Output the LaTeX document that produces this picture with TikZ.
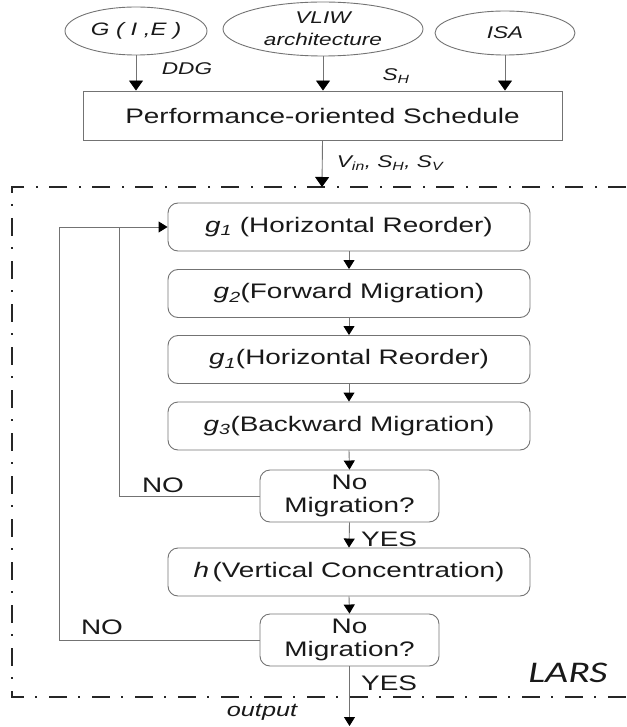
\documentclass[tikz,border=0pt]{standalone}
\usepackage{fontspec}
\setmainfont{Liberation Sans}[FakeStretch=1.33]
\newfontfamily\larsfont{Carlito}[FakeStretch=1.33]
\usetikzlibrary{shapes.geometric,arrows.meta}

\tikzset{
  line/.style={draw=black!55, line width=0.9pt},
  arr/.style={line, -{Triangle[width=11pt,length=9pt,color=black]}},
  bigarr/.style={line, -{Triangle[width=14pt,length=10pt,color=black]}},
  oval/.style={ellipse, draw=black!55, line width=0.9pt, inner sep=0pt,
    font=\fontsize{17}{22}\selectfont\itshape, text=black!90, align=center},
  plainbox/.style={draw=black!55, line width=0.9pt, inner sep=0pt,
    font=\fontsize{21}{23}\selectfont, text=black!90},
  stepbox/.style={plainbox, rounded corners=10pt,
    minimum width=362pt, minimum height=48pt},
  askbox/.style={plainbox, rounded corners=10pt, align=center,
    minimum width=179pt, minimum height=52pt},
  lbl/.style={inner sep=0pt, font=\fontsize{17}{19}\selectfont\itshape, text=black!90},
  yn/.style={inner sep=0pt, font=\fontsize{21}{23}\selectfont, text=black!90},
  frame/.style={draw=black!85, line width=2pt,
    dash pattern=on 18pt off 11pt on 2pt off 12pt}
}

\begin{document}
\begin{tikzpicture}[x=1pt,y=-1pt]
\useasboundingbox (0,0) rectangle (626,727);

% inputs
\node[oval, minimum width=142pt, minimum height=48pt, font=\fontsize{18}{20}\selectfont\itshape] (gie) at (136,31) {G ( I ,E )};
\node[oval, minimum width=200pt, minimum height=54pt] (vliw) at (323,29) {VLIW\\architecture};
\node[oval, minimum width=140pt, minimum height=44pt] (isa) at (505,33) {ISA};

% performance schedule
\node[plainbox, minimum width=479pt, minimum height=49pt] (perf) at (322.5,115.5) {Performance-oriented Schedule};

\draw[bigarr] (gie.south) -- (gie.south |- perf.north);
\draw[bigarr] (vliw.south) -- (vliw.south |- perf.north);
\draw[bigarr] (isa.south) -- (isa.south |- perf.north);
\node[lbl] (ddg) at (187,69) {DDG};
\node[lbl] (sh) at (396,76) {S\textsubscript{H}};

% LARS frame
\draw[frame] (626,187) -- (12,187) -- (12,697) -- (626,697);
\node[inner sep=0pt, font=\fontsize{30}{32}\selectfont\larsfont\itshape, text=black!90] (lars) at (568,673) {LARS};

\coordinate (ftop) at (322,187);
\draw[bigarr] (perf.south) -- (ftop);
\node[lbl] (vin) at (390,163) {V\textsubscript{in}, S\textsubscript{H}, S\textsubscript{V}};

% steps
\node[stepbox] (g1) at (349,227) {\textit{g}\textsubscript{\textit{1}} (Horizontal Reorder)};
\node[stepbox] (g2) at (349,293.5) {\textit{g}\textsubscript{\textit{2}}(Forward Migration)};
\node[stepbox] (g1b) at (349,359.5) {\textit{g}\textsubscript{\textit{1}}(Horizontal Reorder)};
\node[stepbox] (g3) at (349,426) {\textit{g}\textsubscript{\textit{3}}(Backward Migration)};
\node[askbox] (d1) at (349.5,496) {No\\Migration?};
\node[stepbox] (h) at (349,572) {\textit{h}\,(Vertical Concentration)};
\node[askbox] (d2) at (349.5,640) {No\\Migration?};

\draw[arr] (g1.south) -- (g2.north);
\draw[arr] (g2.south) -- (g1b.north);
\draw[arr] (g1b.south) -- (g3.north);
\draw[arr] (g3.south) -- (d1.north);
\draw[arr] (d1.south) -- (h.north);
\draw[arr] (h.south) -- (d2.north);

\coordinate (out) at (349.5,726);
\draw[arr] (d2.south) -- (out);

% feedback loops
\coordinate (jn) at (119,227);
\coordinate (lp) at (59,227);
\draw[line] (d1.west) -| (jn);
\draw[arr] (d2.west) -| (lp) -- (g1.west);

\node[yn] (no1) at (163,485) {NO};
\node[yn] (no2) at (102,627) {NO};
\node[yn, anchor=west] (yes1) at (361,539) {YES};
\node[yn, anchor=west] (yes2) at (361,683) {YES};
\node[lbl, font=\fontsize{19}{21}\selectfont\itshape] (output) at (262,712) {output};
\end{tikzpicture}
\end{document}
